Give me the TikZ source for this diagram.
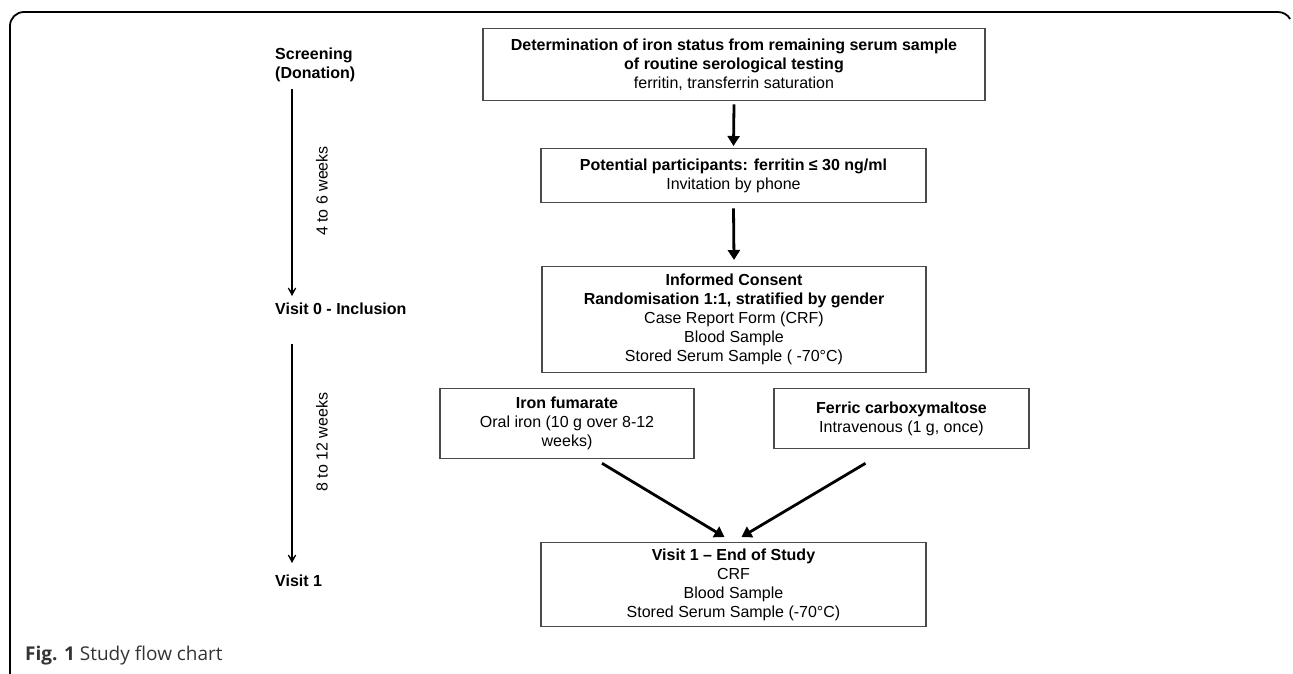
\documentclass[tikz,border=0pt]{standalone}
\usepackage{fontspec}
\setmainfont{Liberation Sans}
\newfontfamily\capfont{Open Sans}
\usetikzlibrary{arrows.meta,calc}
\definecolor{boxgray}{HTML}{4A4A4A}
\definecolor{capgray}{HTML}{333333}
\newcommand{\fs}{\fontsize{16}{19}\selectfont}
\begin{document}
\begin{tikzpicture}[x=1pt,y=-1pt,
  box/.style={draw=boxgray, line width=1.3pt, align=center, anchor=north, inner sep=0pt, font=\fs},
  bigarrow/.style={line width=2.8pt, -{Triangle[length=10pt,width=12pt]}},
  timearrow/.style={line width=1.5pt, -{Stealth[length=13pt,width=14pt,inset=9pt]}},
  lbl/.style={font=\fs\bfseries, anchor=west, inner sep=0pt},
  wk/.style={font=\fs, rotate=90, inner sep=0pt}
]
\useasboundingbox (0,0) rectangle (1293,674);
% frame
\draw[line width=1.8pt] (10,674) -- (10,26) arc[start angle=180,end angle=270,radius=14]
  -- (1278,12) arc[start angle=270,end angle=330,radius=14];
% boxes
\node[box, minimum width=502pt, minimum height=72pt] (b1) at (734,28)
  {\textbf{Determination of iron status from remaining serum sample}\\
   \textbf{of routine serological testing}\\ferritin, transferrin saturation};
\node[box, minimum width=385pt, minimum height=54pt] (b2) at (733.5,148)
  {\textbf{Potential participants: ferritin ≤ 30 ng/ml}\\Invitation by phone};
\node[box, minimum width=384pt, minimum height=106pt] (b3) at (734,266)
  {\textbf{Informed Consent}\\\textbf{Randomisation 1:1, stratified by gender}\\
   Case Report Form (CRF)\\Blood Sample\\Stored Serum Sample ( -70°C)};
\node[box, minimum width=254pt, minimum height=70pt] (iron) at (567,388)
  {\textbf{Iron fumarate}\\Oral iron (10 g over 8-12\\weeks)};
\node[box, minimum width=255pt, minimum height=60pt] (ferric) at (901.5,388)
  {\textbf{Ferric carboxymaltose}\\Intravenous (1 g, once)};
\node[box, minimum width=385pt, minimum height=84pt] (visit) at (733.5,542)
  {\textbf{Visit 1 – End of Study}\\CRF\\Blood Sample\\Stored Serum Sample (-70°C)};
% flow arrows
\draw[bigarrow] ([yshift=-3pt]b1.south) -- ([yshift=2pt]b2.north);
\draw[bigarrow] ([yshift=-5pt]b2.south) -- ([yshift=6pt]b3.north);
\draw[bigarrow] ([xshift=35pt,yshift=-4pt]iron.south) -- ([xshift=-9pt,yshift=5pt]visit.north);
\draw[bigarrow] ([xshift=-36pt,yshift=-14pt]ferric.south) -- ([xshift=8pt,yshift=5pt]visit.north);
% timeline
\node[lbl, align=left] (scr) at (275,65) {Screening\\(Donation)};
\node[lbl] (v0) at (275,309) {Visit 0 - Inclusion};
\node[lbl] (v1) at (275,581) {Visit 1};
\coordinate (t1a) at (292,89);
\coordinate (t1b) at (292,296);
\coordinate (t2a) at (292,344);
\coordinate (t2b) at (292,563);
\draw[timearrow] (t1a) -- (t1b);
\draw[timearrow] (t2a) -- (t2b);
\node[wk] (w1) at (322,191) {4 to 6 weeks};
\node[wk] (w2) at (322,442) {8 to 12 weeks};
% caption
\node[anchor=west, inner sep=0pt, font=\capfont\fontsize{19}{22}\selectfont, text=capgray] (cap) at (25,656)
  {\textbf{Fig. 1} Study flow chart};
\end{tikzpicture}
\end{document}
